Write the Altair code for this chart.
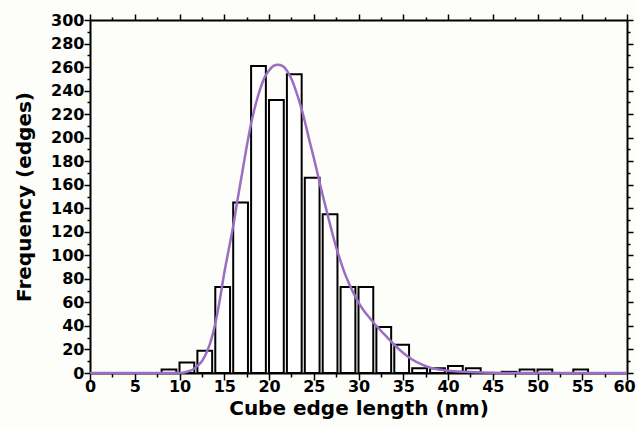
import altair as alt
import pandas as pd

# Histogram bins (left edge, nm) and counts
bin_start = [8, 10, 12, 14, 16, 18, 20, 22, 24, 26, 28, 30, 32, 34, 36, 38, 40, 42, 44, 46, 48, 50, 52, 54]
counts    = [3, 9, 19, 73, 145, 261, 232, 254, 166, 135, 73, 73, 39, 24, 4, 4, 6, 4, 0, 1, 3, 3, 0, 3]

# Fitted curve
fit_x = [0, 10, 10.5, 11, 11.5, 12, 12.5, 13, 13.5, 14, 14.5, 15, 15.5, 16, 16.5, 17, 17.5, 18, 18.5,
         19, 19.5, 20, 20.5, 21, 21.5, 22, 22.5, 23, 23.5, 24, 24.5, 25, 25.5, 26, 26.5, 27, 27.5,
         28, 28.5, 29, 29.5, 30, 30.5, 31, 31.5, 32, 33, 34, 35, 36, 37, 38, 39, 40, 42, 44, 46, 50, 60]
fit_y = [0, 0, 0.5, 1.5, 3, 6, 10, 17, 27, 42, 62, 85, 105, 125, 148, 170, 192, 212, 228,
         241, 251, 257, 261, 262, 261, 257, 250, 240, 228, 214, 198, 183, 167, 151, 136, 121, 107,
         95, 84, 75, 67, 60, 54, 49, 44.5, 40, 32, 24, 17, 11.5, 7.5, 4.5, 3, 2, 1, 0.4, 0.1, 0, 0]

BAR_W = 1.65

bars_df = pd.DataFrame({"start": bin_start, "count": counts})
bars_df = bars_df[bars_df["count"] > 0].copy()
bars_df["end"] = bars_df["start"] + BAR_W
fit_df = pd.DataFrame({"x": fit_x, "y": fit_y})

x_ticks = [i * 2.5 for i in range(25)]
y_ticks = [i * 10 for i in range(31)]

xscale = alt.Scale(domain=[0, 60], nice=False, zero=False)
yscale = alt.Scale(domain=[0, 300], nice=False)

common = dict(domainColor="black", domainWidth=2, tickColor="black", tickWidth=1.5,
              grid=False)

x_bottom = alt.Axis(values=x_ticks, title="Cube edge length (nm)",
                    labelExpr="datum.value % 5 === 0 ? datum.label : ''",
                    tickSize={"condition": {"test": "datum.value % 5 === 0", "value": 7}, "value": 4},
                    labelOffset={"condition": {"test": "datum.value === 60", "value": -3}, "value": 0},
                    labelPadding=-2, titlePadding=4, labelFlush=False, labelOverlap=False, **common)
y_left = alt.Axis(values=y_ticks, title="Frequency (edges)",
                  labelExpr="datum.value % 20 === 0 ? datum.label : ''",
                  tickSize={"condition": {"test": "datum.value % 20 === 0", "value": 6}, "value": 3},
                  labelPadding=0, titlePadding=16, labelOverlap=False, **common)
x_top = alt.Axis(values=x_ticks, orient="top", labels=False, title=None,
                 tickSize={"condition": {"test": "datum.value % 5 === 0", "value": 6}, "value": 3},
                 **common)
y_right = alt.Axis(values=y_ticks, orient="right", labels=False, title=None,
                   tickSize={"condition": {"test": "datum.value % 20 === 0", "value": 6}, "value": 3},
                   **common)

bars = alt.Chart(bars_df).mark_bar(fill="white", stroke="black", strokeWidth=2).encode(
    x=alt.X("start:Q", scale=xscale, axis=x_bottom),
    x2="end:Q",
    y=alt.Y("count:Q", scale=yscale, axis=y_left),
    y2=alt.datum(0),
)

line = alt.Chart(fit_df).mark_line(color="#9a6ec3", strokeWidth=2.5, interpolate="monotone").encode(
    x=alt.X("x:Q", scale=xscale, axis=x_top),
    y=alt.Y("y:Q", scale=yscale, axis=y_right),
)

chart = alt.layer(bars, line).resolve_axis(x="independent", y="independent").properties(
    width=537, height=353,
    autosize=alt.AutoSizeParams(type="none"),
    padding={"left": 90, "top": 20, "right": 9, "bottom": 56},
    background="#fdfdfa",
).configure_view(stroke=None).configure_axis(
    labelFont="DejaVu Sans", labelFontWeight="bold", labelFontSize=16, labelColor="black",
    titleFont="DejaVu Sans", titleFontWeight="bold", titleFontSize=20, titleColor="black",
)

chart.save("out.html", embed_options={"renderer": "svg", "actions": False})
